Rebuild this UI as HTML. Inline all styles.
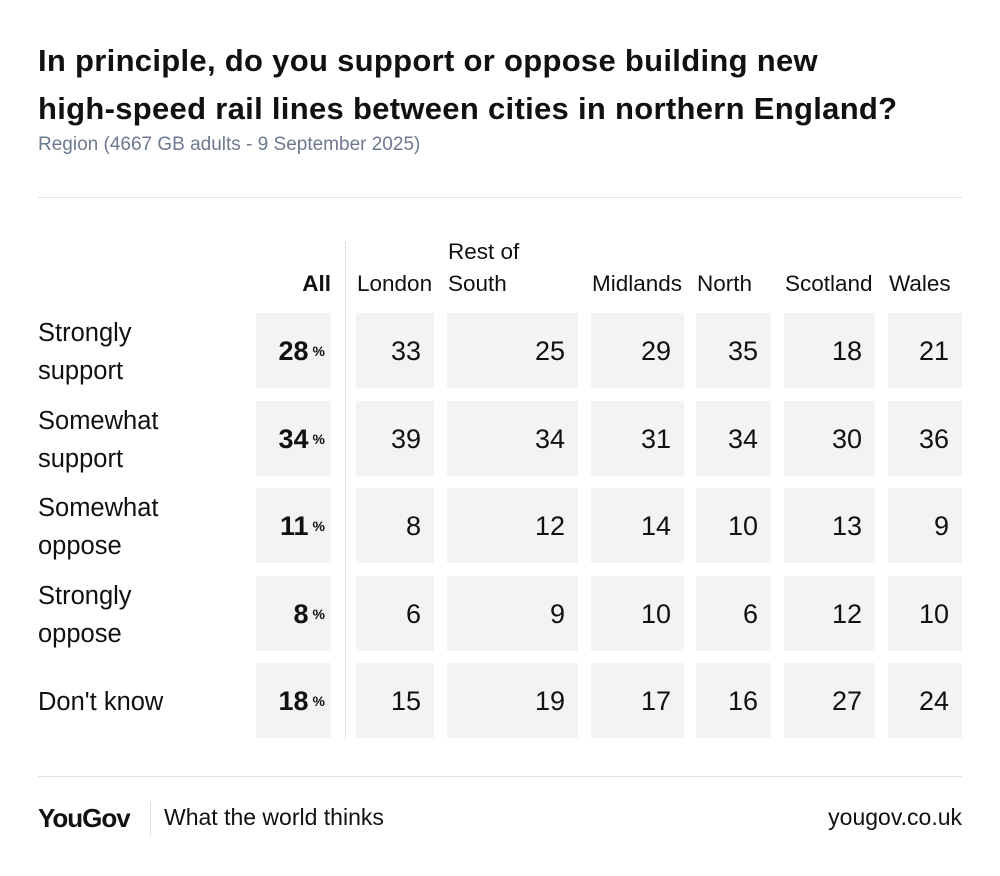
<!DOCTYPE html>
<html><head><meta charset="utf-8"><style>
body{margin:0;background:#fff;font-family:"Liberation Sans",sans-serif;color:#111;}
#root{position:relative;width:1000px;height:876px;overflow:hidden;}
.abs{position:absolute;white-space:nowrap;}
.t{font-weight:bold;font-size:31px;left:38px;letter-spacing:0.3px;}
.cell{position:absolute;background:#f2f3f5;font-size:27px;text-align:right;box-sizing:border-box;padding-right:13px;}
.hdr{position:absolute;font-size:22.5px;line-height:32px;}
.rl{position:absolute;left:38px;font-size:25.5px;line-height:38px;}
</style></head><body>
<div id="root">
<div class="abs t" style="top:43px">In principle, do you support or oppose building new</div>
<div class="abs t" style="top:91px">high-speed rail lines between cities in northern England?</div>
<div class="abs" style="left:38px;top:134px;font-size:19px;color:#6b7a90">Region (4667 GB adults - 9 September 2025)</div>
<div class="abs" style="left:38px;top:197px;width:924px;height:1px;background:#e3e3e3"></div>
<div class="abs" style="left:345px;top:242px;height:498px;border-left:1px dotted #ccc"></div>
<div id="table"></div>
<div class="abs" style="left:38px;top:776px;width:924px;height:1px;background:#e3e3e3"></div>
<div class="abs" style="left:38px;top:803px;font-size:26px;font-weight:bold;letter-spacing:-1px">YouGov</div>
<div class="abs" style="left:150px;top:802px;width:1px;height:34px;background:#ddd"></div>
<div class="abs" style="left:164px;top:804px;font-size:23px">What the world thinks</div>
<div class="abs" style="right:38px;top:804px;font-size:23px">yougov.co.uk</div>
</div>
<script>
const columns=["All","London","Rest of South","Midlands","North","Scotland","Wales"];
const rows=["Strongly support","Somewhat support","Somewhat oppose","Strongly oppose","Don't know"];
const allValues=[28,34,11,8,18];
const london=[33,39,8,6,15];
const restOfSouth=[25,34,12,9,19];
const midlands=[29,31,14,10,17];
const north=[35,34,10,6,16];
const scotland=[18,30,13,12,27];
const wales=[21,36,9,10,24];
const series=[allValues,london,restOfSouth,midlands,north,scotland,wales];
const colX=[256,356,447,591,696,784,888];
const colW=[75,78,131,93,75,91,74];
const rowY=i=>313+i*87.5;
const t=document.getElementById('table');
const hdrLines=[["All"],["London"],["Rest of","South"],["Midlands"],["North"],["Scotland"],["Wales"]];
const rowLines=[["Strongly","support"],["Somewhat","support"],["Somewhat","oppose"],["Strongly","oppose"],["Don't know"]];
columns.forEach((c,j)=>{
  const h=document.createElement('div');
  
  
  h.className='hdr';
  h.innerHTML=hdrLines[j].join('<br>');
  h.style.top=(268-32*(hdrLines[j].length-1))+'px';
  if(j===0){h.style.right=(1000-331)+'px';h.style.fontWeight='bold';h.style.textAlign='right';}
  else h.style.left=(colX[j]+1)+'px';
  t.appendChild(h);
});
rows.forEach((r,i)=>{
  const l=document.createElement('div');
  
  
  l.className='rl';
  l.innerHTML=rowLines[i].join('<br>');
  l.style.top=(rowY(i)+39-19*rowLines[i].length)+'px';
  t.appendChild(l);
  series.forEach((s,j)=>{
    const c=document.createElement('div');
    
    
    c.className='cell';
    c.style.left=colX[j]+'px';c.style.top=rowY(i)+'px';
    c.style.width=colW[j]+'px';c.style.height='75px';c.style.lineHeight='77px';
    if(j===0){c.innerHTML='<b>'+s[i]+'</b><span style="font-size:14px;font-weight:bold;margin-left:4px;vertical-align:4px">%</span>';c.style.paddingRight='6px';}
    else c.textContent=s[i];
    t.appendChild(c);
  });
});
</script>
</body></html>
